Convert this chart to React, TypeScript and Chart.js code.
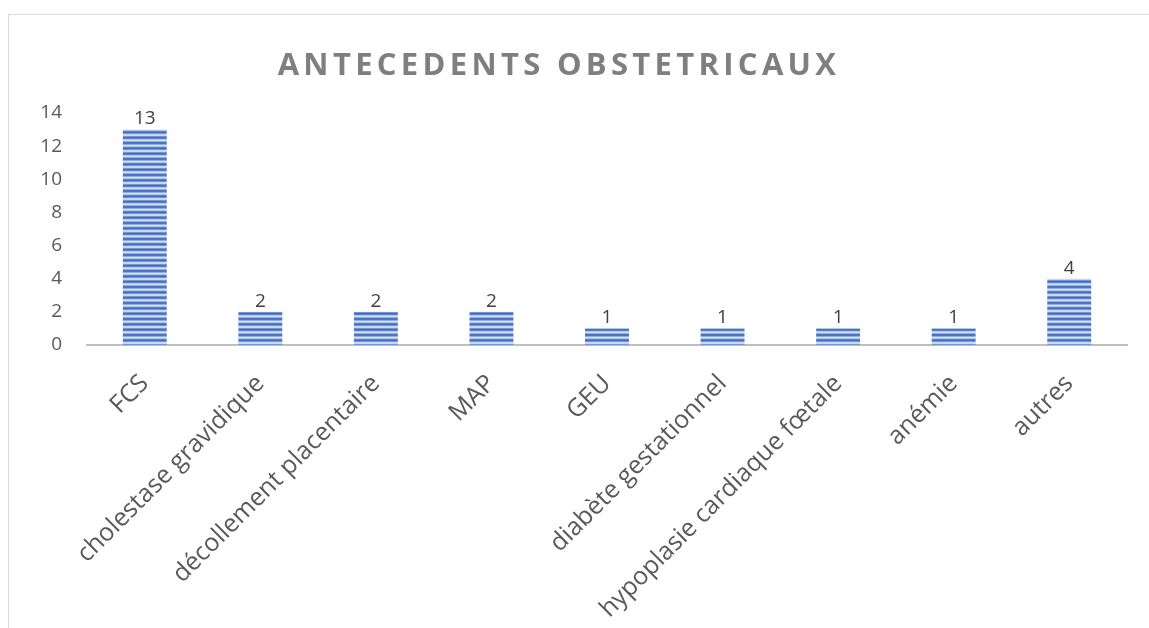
import React, { useEffect, useRef } from "react";
import { Chart, registerables } from "chart.js";

Chart.register(...registerables);

const TITLE = "ANTECEDENTS OBSTETRICAUX";
const CATEGORIES = [
  "FCS",
  "cholestase gravidique",
  "décollement placentaire",
  "MAP",
  "GEU",
  "diabète gestationnel",
  "hypoplasie cardiaque fœtale",
  "anémie",
  "autres",
];
const VALUES = [13, 2, 2, 2, 1, 1, 1, 1, 4];
const Y_MIN = 0;
const Y_MAX = 14;
const Y_STEP = 2;

const FONT = "'Open Sans', 'DejaVu Sans', sans-serif";

function makeStripePattern(ctx: CanvasRenderingContext2D): CanvasPattern | string {
  const c = document.createElement("canvas");
  c.width = 8;
  c.height = 16;
  const p = c.getContext("2d");
  if (!p) return "#4472C4";
  const dark = [63, 108, 192];
  const light = [222, 231, 246];
  const period = 16 / 3;
  for (let i = 0; i < 16; i++) {
    const t = (Math.cos((2 * Math.PI * (i + 0.5)) / period) + 1) / 2;
    const k = Math.pow(t, 0.8);
    const r = Math.round(light[0] + (dark[0] - light[0]) * k);
    const g = Math.round(light[1] + (dark[1] - light[1]) * k);
    const b = Math.round(light[2] + (dark[2] - light[2]) * k);
    p.fillStyle = `rgb(${r},${g},${b})`;
    p.fillRect(0, i, 8, 1);
  }
  return ctx.createPattern(c, "repeat") || "#4472C4";
}

const titlePlugin = {
  id: "spacedTitle",
  afterDraw(chart: any) {
    const ctx = chart.ctx as CanvasRenderingContext2D;
    ctx.save();
    ctx.font = `bold 31px ${FONT}`;
    (ctx as any).letterSpacing = "4.3px";
    ctx.fillStyle = "#7f7f7f";
    ctx.textAlign = "center";
    ctx.textBaseline = "middle";
    ctx.fillText(TITLE, 550, 51);
    ctx.restore();
  },
};

const valueLabelPlugin = {
  id: "valueLabels",
  afterDatasetsDraw(chart: any) {
    const ctx = chart.ctx as CanvasRenderingContext2D;
    const meta = chart.getDatasetMeta(0);
    ctx.save();
    ctx.font = `19px ${FONT}`;
    ctx.fillStyle = "#404040";
    ctx.textAlign = "center";
    ctx.textBaseline = "bottom";
    meta.data.forEach((bar: any, i: number) => {
      ctx.fillText(String(VALUES[i]), bar.x, bar.y - 1);
    });
    ctx.restore();
  },
};

export default function App() {
  const ref = useRef<HTMLCanvasElement | null>(null);

  useEffect(() => {
    document.documentElement.style.overflow = "hidden";
    document.body.style.overflow = "hidden";
    const canvas = ref.current;
    if (!canvas) return;
    const ctx = canvas.getContext("2d");
    if (!ctx) return;
    const pattern = makeStripePattern(ctx);
    const chart = new Chart(canvas, {
      type: "bar",
      data: {
        labels: CATEGORIES,
        datasets: [
          {
            data: VALUES,
            backgroundColor: pattern as any,
            borderWidth: 0,
            categoryPercentage: 1,
            barPercentage: 0.38,
          },
        ],
      },
      plugins: [titlePlugin, valueLabelPlugin],
      options: {
        animation: false,
        responsive: false,
        layout: { padding: { left: 0, right: 42, top: 98, bottom: 0 } },
        plugins: {
          legend: { display: false },
          title: { display: false },
          tooltip: { enabled: false },
        },
        scales: {
          y: {
            min: Y_MIN,
            max: Y_MAX,
            ticks: {
              stepSize: Y_STEP,
              padding: 25,
              color: "#595959",
              font: { family: FONT, size: 19 },
            },
            grid: { display: false, drawTicks: false },
            border: { display: false },
            afterFit: (s: any) => {
              s.width = 78;
            },
          },
          x: {
            ticks: {
              minRotation: 45,
              maxRotation: 45,
              autoSkip: false,
              padding: 24,
              color: "#595959",
              font: { family: FONT, size: 25 },
            },
            grid: { display: false, drawTicks: false },
            border: { display: true, color: "#bfbfbf", width: 2 },
            afterFit: (s: any) => {
              s.height = 310;
            },
          },
        },
      },
    });
    return () => chart.destroy();
  }, []);

  return (
    <div
      style={{
        position: "absolute",
        left: 8,
        top: 14,
        width: 1160,
        height: 640,
        border: "1px solid #d9d9d9",
        background: "#ffffff",
      }}
    >
      <canvas ref={ref} width={1160} height={640} style={{ width: 1160, height: 640, display: "block" }} />
    </div>
  );
}
